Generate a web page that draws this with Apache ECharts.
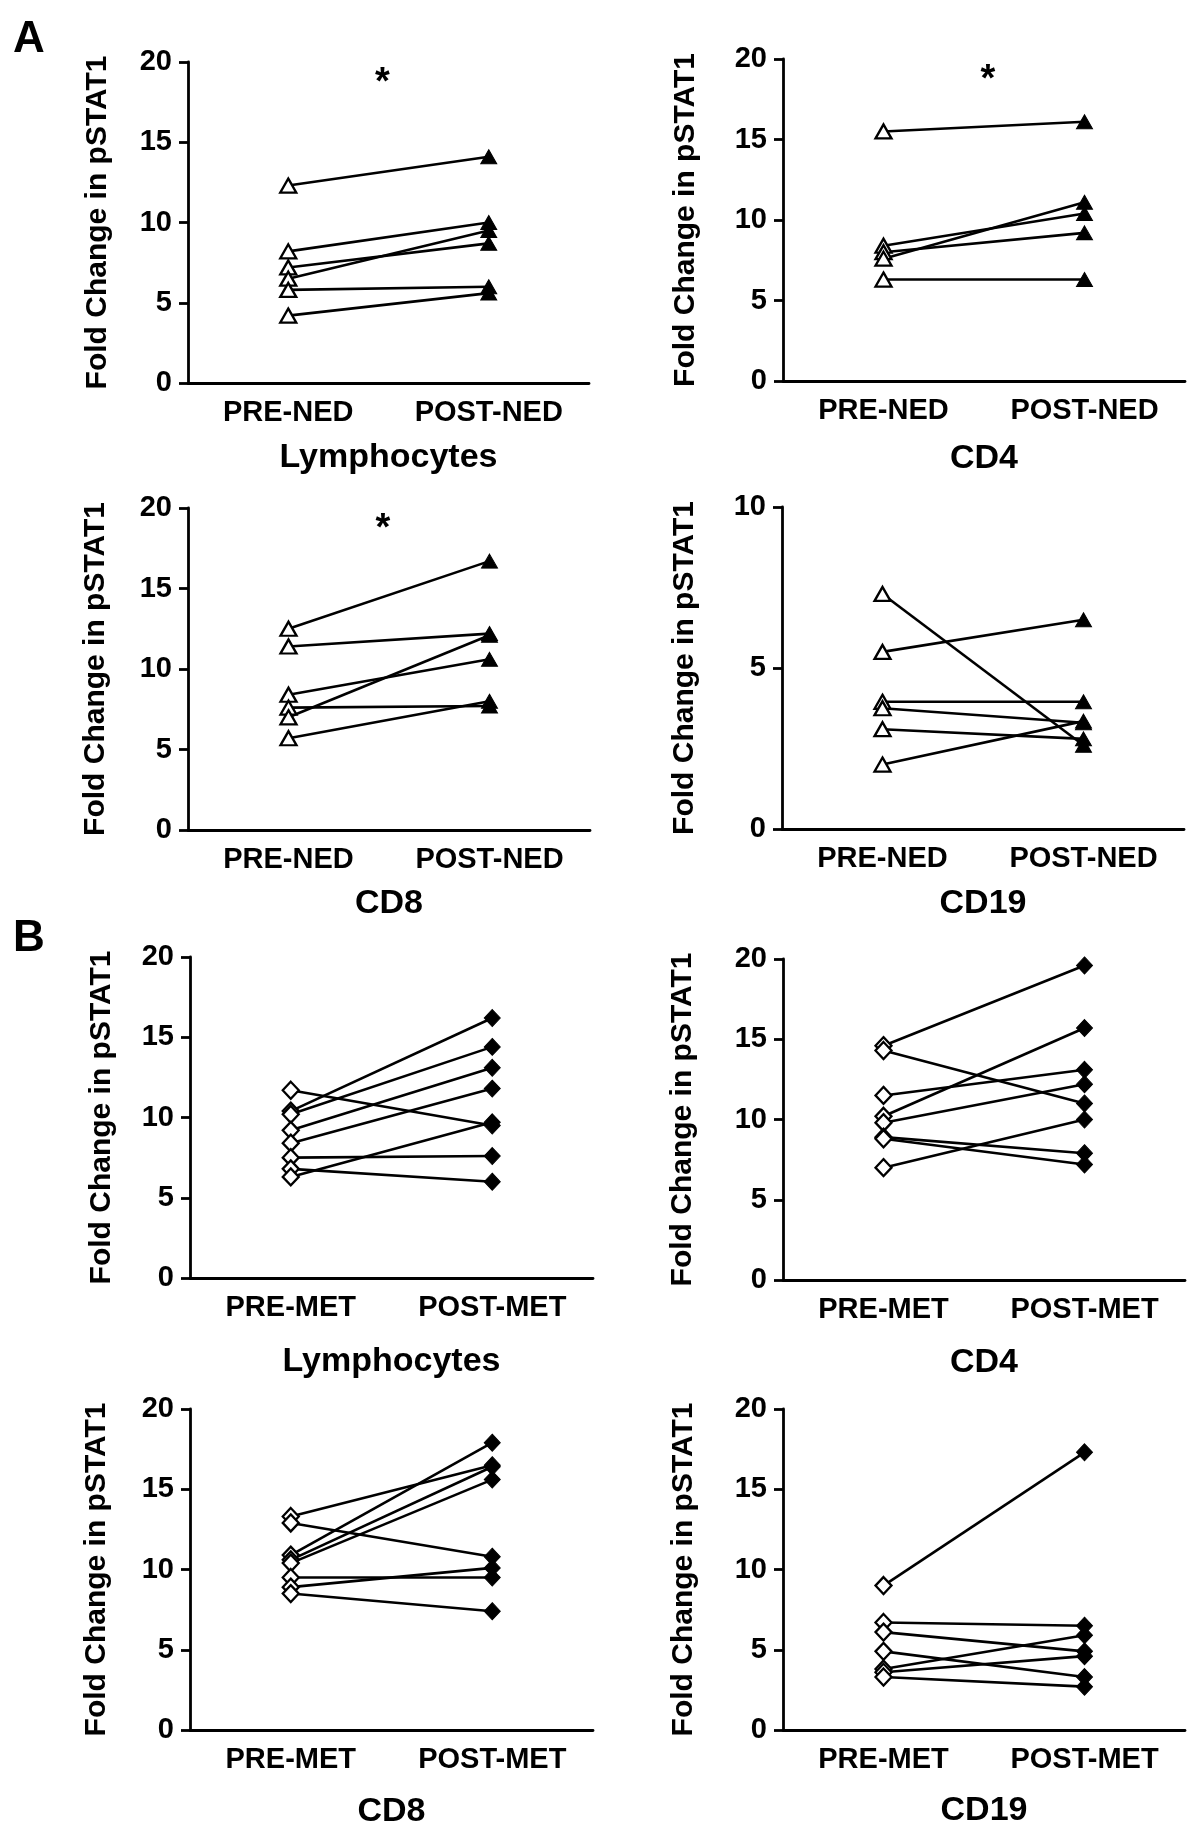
<!DOCTYPE html>
<html><head><meta charset="utf-8">
<script src="https://cdn.jsdelivr.net/npm/echarts@6/dist/echarts.min.js"></script>
<style>html,body{margin:0;padding:0;background:#fff}#c{width:1200px;height:1831px}</style>
</head><body><div id="c"></div>
<script>
// ---- data ----
const nedCats = ['PRE-NED', 'POST-NED'];
const metCats = ['PRE-MET', 'POST-MET'];
const panelTitles = ['Lymphocytes', 'CD4', 'CD8', 'CD19', 'Lymphocytes', 'CD4', 'CD8', 'CD19'];
const yAxisTitle = 'Fold Change in pSTAT1';

const nedLymphPre  = [12.3, 8.2, 7.2, 6.5, 5.8, 4.2];
const nedLymphPost = [14.1, 10.0, 8.7, 9.5, 6.0, 5.6];
const nedCD4Pre    = [15.5, 8.4, 8.0, 7.6, 6.3];
const nedCD4Post   = [16.1, 10.4, 9.2, 11.1, 6.3];
const nedCD8Pre    = [12.5, 11.4, 8.4, 7.6, 7.0, 5.7];
const nedCD8Post   = [16.7, 12.2, 10.6, 7.7, 12.1, 8.0];
const nedCD19Pre   = [7.3, 5.5, 3.95, 3.75, 3.1, 2.0];
const nedCD19Post  = [2.6, 6.5, 3.95, 3.3, 2.8, 3.35];

const metLymphPre  = [11.7, 10.4, 10.2, 9.2, 8.4, 7.5, 6.8, 6.3];
const metLymphPost = [9.5, 16.2, 14.4, 13.1, 11.8, 7.6, 6.0, 9.7];
const metCD4Pre    = [14.6, 14.3, 11.5, 10.2, 9.8, 8.9, 8.8, 7.0];
const metCD4Post   = [19.6, 11.0, 13.1, 15.7, 12.2, 7.9, 7.2, 10.0];
const metCD8Pre    = [13.3, 12.9, 10.9, 10.6, 10.4, 9.5, 8.9, 8.5];
const metCD8Post   = [16.5, 10.8, 17.9, 16.4, 15.6, 9.5, 10.1, 7.4];
const metCD19Pre   = [9.0, 6.7, 6.1, 4.9, 3.8, 3.6, 3.3];
const metCD19Post  = [17.3, 6.5, 4.9, 3.3, 5.9, 4.6, 2.7];

const yMax20 = 20, yMax10 = 10, yStep = 5;
const significant = [true, true, true, false, false, false, false, false];

// ---- layout / style ----
const FONT = '"Liberation Sans", Arial, Helvetica, sans-serif';
const panels = [
  {pre: nedLymphPre, post: nedLymphPost, cats: nedCats, sym: 'triangle', max: yMax20, left: 188, top: 62,  width: 401, height: 321, yGap: 75, xGap: 58, starDx: -6},
  {pre: nedCD4Pre,   post: nedCD4Post,   cats: nedCats, sym: 'triangle', max: yMax20, left: 783, top: 59,  width: 402, height: 322, yGap: 82, xGap: 61, starDx: 4},
  {pre: nedCD8Pre,   post: nedCD8Post,   cats: nedCats, sym: 'triangle', max: yMax20, left: 188, top: 508, width: 402, height: 322, yGap: 77, xGap: 57, starDx: -6},
  {pre: nedCD19Pre,  post: nedCD19Post,  cats: nedCats, sym: 'triangle', max: yMax10, left: 782, top: 507, width: 402, height: 322, yGap: 82, xGap: 58, starDx: 0},
  {pre: metLymphPre, post: metLymphPost, cats: metCats, sym: 'diamond',  max: yMax20, left: 190, top: 957, width: 403, height: 321, yGap: 73, xGap: 67, starDx: 0},
  {pre: metCD4Pre,   post: metCD4Post,   cats: metCats, sym: 'diamond',  max: yMax20, left: 783, top: 959, width: 402, height: 321, yGap: 85, xGap: 66, starDx: 0},
  {pre: metCD8Pre,   post: metCD8Post,   cats: metCats, sym: 'diamond',  max: yMax20, left: 190, top: 1409, width: 403, height: 321, yGap: 78, xGap: 65, starDx: 0},
  {pre: metCD19Pre,  post: metCD19Post,  cats: metCats, sym: 'diamond',  max: yMax20, left: 783, top: 1409, width: 402, height: 321, yGap: 84, xGap: 64, starDx: 0}
];

const grid = [], xAxis = [], yAxis = [], series = [], graphic = [];
panels.forEach((p, i) => {
  grid.push({left: p.left, top: p.top, width: p.width, height: p.height, containLabel: false});
  xAxis.push({
    type: 'category', gridIndex: i, data: p.cats, boundaryGap: true,
    axisLine: {lineStyle: {color: '#000', width: 2.8}},
    axisTick: {alignWithLabel: true, length: 10, lineStyle: {color: '#000', width: 2.8}},
    axisLabel: {color: '#000', fontFamily: FONT, fontWeight: 'bold', fontSize: 29, margin: 15},
    name: panelTitles[i], nameLocation: 'middle', nameGap: p.xGap,
    nameTextStyle: {color: '#000', fontFamily: FONT, fontWeight: 'bold', fontSize: 34},
    splitLine: {show: false}
  });
  yAxis.push({
    type: 'value', gridIndex: i, min: 0, max: p.max, interval: yStep,
    axisLine: {show: true, lineStyle: {color: '#000', width: 2.8}},
    axisTick: {show: true, length: 9, lineStyle: {color: '#000', width: 2.8}},
    axisLabel: {color: '#000', fontFamily: FONT, fontWeight: 'bold', fontSize: 29, margin: 16},
    splitLine: {show: false},
    name: yAxisTitle, nameLocation: 'middle', nameRotate: 90, nameGap: p.yGap,
    nameTextStyle: {color: '#000', fontFamily: FONT, fontWeight: 'bold', fontSize: 30}
  });
  const symSize = p.sym === 'triangle' ? [16, 14] : [16, 17];
  p.pre.forEach((v, k) => {
    series.push({
      type: 'line', xAxisIndex: i, yAxisIndex: i,
      symbol: p.sym, symbolSize: symSize, showAllSymbol: true,
      lineStyle: {color: '#000', width: 2.6},
      data: [
        {value: v, itemStyle: {color: '#fff', borderColor: '#000', borderWidth: 2.3}},
        {value: p.post[k], itemStyle: {color: '#000', borderColor: '#000', borderWidth: 1}}
      ],
      animation: false, silent: true
    });
  });
  if (significant[i]) {
    graphic.push({type: 'text', x: p.left + p.width / 2 + p.starDx, y: p.top + 22,
      style: {text: '*', fontFamily: FONT, fontWeight: 'bold', fontSize: 38, fill: '#000', align: 'center', verticalAlign: 'middle'}});
  }
});
graphic.push({type: 'text', left: 13, top: 18, style: {text: 'A', fontFamily: FONT, fontWeight: 'bold', fontSize: 44, fill: '#000'}});
graphic.push({type: 'text', left: 13, top: 917, style: {text: 'B', fontFamily: FONT, fontWeight: 'bold', fontSize: 44, fill: '#000'}});

const chart = echarts.init(document.getElementById('c'), null, {renderer: 'canvas'});
chart.setOption({backgroundColor: '#fff', animation: false, grid, xAxis, yAxis, series, graphic});
</script>
</body></html>
